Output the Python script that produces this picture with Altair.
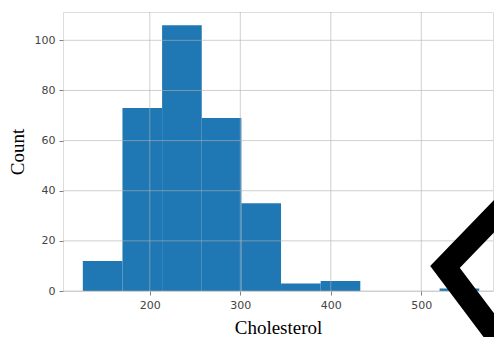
import altair as alt
import pandas as pd

# Histogram of Cholesterol (10 bins)
bin_edges = [126.0, 169.8, 213.6, 257.4, 301.2, 345.0, 388.8, 432.6, 476.4, 520.2, 564.0]
counts = [12, 73, 106, 69, 35, 3, 4, 0, 0, 1]

x_ticks = [200, 300, 400, 500]
y_ticks = [0, 20, 40, 60, 80, 100]

# black chevron overlay ("<") in data coordinates
chev_x = [636.8, 526.2, 636.8]
chev_y = [50.9, 9.57, -43.5]
chev_order = [0, 1, 2]

bars = pd.DataFrame({
    "start": bin_edges[:-1],
    "end": bin_edges[1:],
    "count": counts,
})
gx = pd.DataFrame({"v": x_ticks})
gy = pd.DataFrame({"v": y_ticks})
chev = pd.DataFrame({"x": chev_x, "y": chev_y, "o": chev_order})

x_scale = alt.Scale(domain=[104.1, 579.2], nice=False, zero=False)
y_scale = alt.Scale(domain=[0, 111.3], nice=False)

label_font = "DejaVu Sans"
title_font = "Liberation Serif"

x_axis = alt.Axis(
    values=x_ticks, grid=False, domain=False, tickSize=4, tickColor="#808080",
    labelFont=label_font, labelFontSize=11, labelColor="#444444", labelPadding=4,
    title="Cholesterol", titleFont=title_font, titleFontSize=19,
    titleFontWeight="normal", titleColor="#000000", titlePadding=8,
)
y_axis = alt.Axis(
    values=y_ticks, grid=False, domain=False, tickSize=4, tickColor="#808080",
    labelFont=label_font, labelFontSize=11, labelColor="#444444", labelPadding=4,
    title="Count", titleFont=title_font, titleFontSize=19,
    titleFontWeight="normal", titleColor="#000000", titlePadding=7,
)

bar_layer = alt.Chart(bars).mark_rect(color="#1f77b4").encode(
    x=alt.X("start:Q", scale=x_scale, axis=x_axis),
    x2="end:Q",
    y=alt.Y("count:Q", scale=y_scale, axis=y_axis),
    y2=alt.datum(0),
)

grid_x = alt.Chart(gx).mark_rule(color="#b0b0b0", opacity=0.6, strokeWidth=1).encode(
    x=alt.X("v:Q", scale=x_scale)
)
grid_y = alt.Chart(gy).mark_rule(color="#b0b0b0", opacity=0.6, strokeWidth=1).encode(
    y=alt.Y("v:Q", scale=y_scale)
)

chevron = alt.Chart(chev).mark_line(
    color="#000000", strokeWidth=22.6, strokeJoin="miter", strokeCap="butt", clip=False
).encode(
    x=alt.X("x:Q", scale=x_scale),
    y=alt.Y("y:Q", scale=y_scale),
    order="o:Q",
)

chart = alt.layer(bar_layer, grid_x, grid_y, chevron).properties(
    width=430,
    height=279,
    autosize=alt.AutoSizeParams(type="none"),
    padding={"left": 55, "top": 4, "right": 1, "bottom": 46},
).configure_view(
    stroke="#808080", strokeWidth=1.5
).configure(background="#ffffff")

chart.save("out.html", embed_options={"renderer": "svg", "actions": False})
